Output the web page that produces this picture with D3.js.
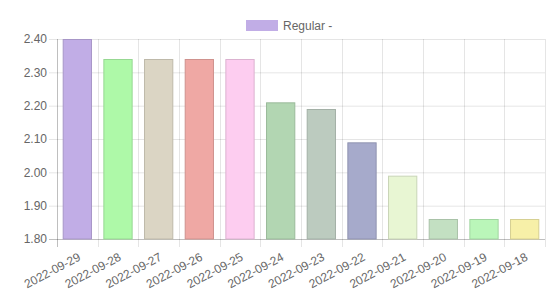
<!DOCTYPE html>
<html>
<head>
<meta charset="utf-8">
<script src="https://cdn.jsdelivr.net/npm/d3@7"></script>
<style>
  body { margin: 0; background: #fff; }
  text { font-family: "Liberation Sans", Arial, sans-serif; fill: #666; }
</style>
</head>
<body>
<div id="barGraph"></div>
<script>
const dates = ["2022-09-29","2022-09-28","2022-09-27","2022-09-26","2022-09-25","2022-09-24",
  "2022-09-23","2022-09-22","2022-09-21","2022-09-20","2022-09-19","2022-09-18"];
const regular = [2.40, 2.34, 2.34, 2.34, 2.34, 2.21, 2.19, 2.09, 1.99, 1.86, 1.86, 1.86];
const barColors = ["#c1ade6","#aef9a8","#dbd5c4","#efa8a4","#fdcdf0","#b2d6b2",
  "#bccbbf","#a6aacb","#e8f6d3","#c3e0c2","#baf6b9","#f7f0a8"];
const yTicks = [1.80, 1.90, 2.00, 2.10, 2.20, 2.30, 2.40];
const seriesName = "Regular -";

var W = 553, H = 292;
var margin = {top: 39, right: 8, bottom: 53, left: 57},
    width = W - margin.left - margin.right,
    height = H - margin.top - margin.bottom;

var svg = d3.select("#barGraph")
  .append("svg")
    .attr("width", W)
    .attr("height", H)
  .append("g")
    .attr("transform", "translate(" + margin.left + "," + margin.top + ")");

var x = d3.scaleBand()
  .range([0, width])
  .domain(dates)
  .paddingInner(0.28)
  .paddingOuter(0.14);

// category slots (grid lines sit on their edges)
var xc = d3.scaleBand().range([0, width]).domain(dates);

var y = d3.scaleLinear()
  .domain([1.80, 2.40])
  .range([height, 0]);

// horizontal grid + y tick marks
svg.selectAll(".hgrid")
  .data(yTicks)
  .enter().append("line")
    .attr("x1", -8).attr("x2", width)
    .attr("y1", d => y(d) + 0.5).attr("y2", d => y(d) + 0.5)
    .attr("stroke", d => d === 1.80 ? "rgba(0,0,0,0.25)" : "rgba(0,0,0,0.1)");

// vertical grid at category edges
var edges = dates.map(d => xc(d)).concat([width]);
svg.selectAll(".vgrid")
  .data(edges)
  .enter().append("line")
    .attr("x1", d => Math.round(d) + 0.5).attr("x2", d => Math.round(d) + 0.5)
    .attr("y1", 0).attr("y2", height + 8)
    .attr("stroke", (d, i) => i === 0 ? "rgba(0,0,0,0.25)" : "rgba(0,0,0,0.1)");

// y labels
svg.selectAll(".ylab")
  .data(yTicks)
  .enter().append("text")
    .attr("x", -10)
    .attr("y", d => y(d))
    .attr("dy", "0.35em")
    .attr("text-anchor", "end")
    .style("font-size", "12px")
    .text(d => d.toFixed(2));

// x labels
svg.selectAll(".xlab")
  .data(dates)
  .enter().append("text")
    .attr("text-anchor", "end")
    .attr("transform", d => "translate(" + (xc(d) + xc.bandwidth() / 2 + 2) + "," + (height + 17) + ") rotate(-28)")
    .attr("dy", "0.35em")
    .style("font-size", "12px")
    .text(d => d);

// Bars
svg.selectAll("mybar")
  .data(dates)
  .enter()
  .append("rect")
    .attr("x", d => x(d) + 0.5)
    .attr("y", (d, i) => y(regular[i]) + 0.5)
    .attr("width", x.bandwidth() - 1)
    .attr("height", (d, i) => height - y(regular[i]) - 0.5)
    .attr("fill", (d, i) => barColors[i])
    .attr("stroke", (d, i) => d3.color(barColors[i]).darker(0.4))
    .attr("stroke-width", 1);

// legend
var lg = d3.select("#barGraph svg").append("g").attr("transform", "translate(246,20)");
lg.append("rect").attr("width", 32).attr("height", 11).attr("fill", barColors[0]);
lg.append("text").attr("x", 37).attr("y", 6).attr("dy", "0.35em")
  .style("font-size", "12px").text(seriesName);
</script>
</body>
</html>
